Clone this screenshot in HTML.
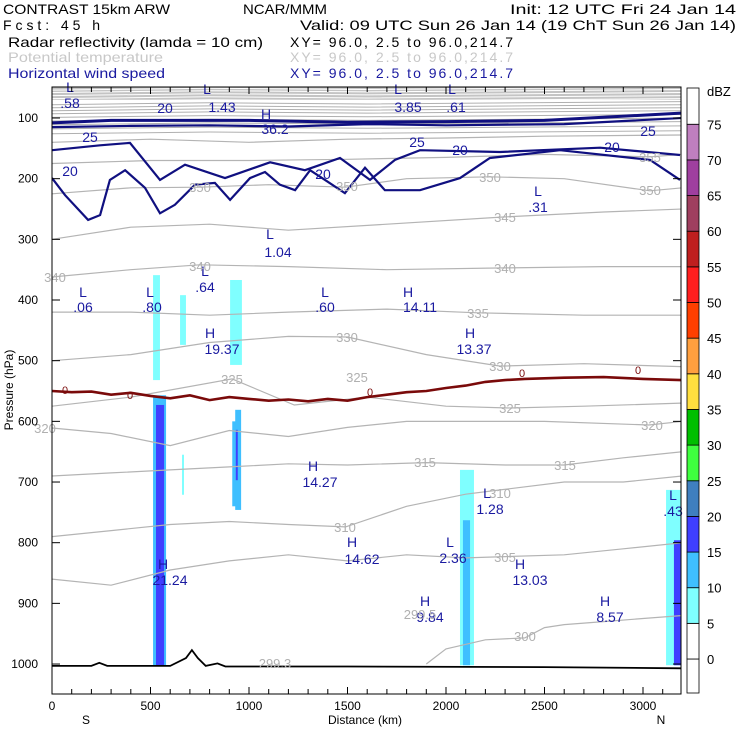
<!DOCTYPE html>
<html><head><meta charset="utf-8">
<style>
body{margin:0;background:#fff;width:740px;height:740px;overflow:hidden}
svg{display:block;font-family:"Liberation Sans",sans-serif}
</style></head>
<body>
<svg id="c" width="740" height="740" xmlns="http://www.w3.org/2000/svg">
<g font-size="14">
<text x="3" y="14" textLength="167" lengthAdjust="spacingAndGlyphs">CONTRAST 15km ARW</text>
<text x="243" y="14" textLength="84" lengthAdjust="spacingAndGlyphs">NCAR/MMM</text>
<text x="510" y="14" textLength="226" lengthAdjust="spacingAndGlyphs">Init: 12 UTC Fri 24 Jan 14</text>
<text x="3" y="30" textLength="97" lengthAdjust="spacing">Fcst:   45 h</text>
<text x="300" y="30" textLength="436" lengthAdjust="spacingAndGlyphs">Valid: 09 UTC Sun 26 Jan 14 (19 ChT Sun 26 Jan 14)</text>
<text x="8" y="47" textLength="255" lengthAdjust="spacingAndGlyphs">Radar reflectivity (lamda = 10 cm)</text>
<text x="290" y="47" textLength="223" lengthAdjust="spacing">XY=  96.0,  2.5 to  96.0,214.7</text>
<text x="8" y="62" fill="#c8c8c8" textLength="155" lengthAdjust="spacingAndGlyphs">Potential temperature</text>
<text x="290" y="62" fill="#c8c8c8" textLength="223" lengthAdjust="spacing">XY=  96.0,  2.5 to  96.0,214.7</text>
<text x="8" y="78" fill="#1a1aa0" textLength="157" lengthAdjust="spacingAndGlyphs">Horizontal wind speed</text>
<text x="290" y="78" fill="#1a1aa0" textLength="223" lengthAdjust="spacing">XY=  96.0,  2.5 to  96.0,214.7</text>
</g>
<defs><clipPath id="pc"><rect x="52" y="87" width="629" height="607"/></clipPath></defs>
<g id="plot" clip-path="url(#pc)"></g>
<g id="labels"></g>
<rect x="52" y="87" width="629" height="607" fill="none" stroke="#000"/>
<g id="axes" font-size="12"></g>
<g id="cbar" font-size="13"></g>
</svg>
<script>
// ---- data ----
const xTicks=[0,500,1000,1500,2000,2500,3000];
const yTicks=[100,200,300,400,500,600,700,800,900,1000];
const cbLevels=[0,5,10,15,20,25,30,35,40,45,50,55,60,65,70,75];
const cbColors=["#ffffff","#ffffff","#7fffff","#3fbfff","#3f3fff","#3f7fbf","#3fff3f","#00bf00","#ffdf3f","#ff9f3f","#ff3f00","#ff1f1f","#bf1f1f","#9f3f5f","#9f3f9f","#bf7fbf","#ffffff"];
// reflectivity regions
const reflKm0=[513,650,660,904,915,2071,3117,930,933,2086,3157];
const reflKm1=[548,680,670,964,955,2142,3193,960,943,2122,3193];
const reflPTop=[359,392,655,367,600,680,713,581,614,763,796];
const reflPBot=[532,474,721,507,740,1002,1002,746,697,1002,1002];
const reflDbz=[7,7,7,7,12,7,7,12,17,12,17];
const colOuterKm0=513,colOuterKm1=579,colOuterPTop=557,colOuterPBot=1002,colOuterDbz=12;
const colCoreKm0=528,colCoreKm1=569,colCorePTop=573,colCorePBot=1002,colCoreDbz=17;
// isentropes (km, hPa)
const thetaLines={
300:[[1900,1000],[2000,975],[2200,960],[2400,957],[2500,940],[2600,935],[2800,930],[3000,925],[3200,920]],
305:[[0,860],[300,870],[600,845],[900,830],[1200,820],[1500,830],[1800,820],[2100,825],[2300,823],[2600,820],[2900,810],[3200,800]],
310:[[0,790],[300,780],[600,770],[900,765],[1200,770],[1490,774],[1800,740],[2100,720],[2275,713],[2600,700],[2900,700],[3200,690]],
315:[[0,690],[300,685],[600,680],[900,675],[1200,670],[1500,672],[1900,668],[2300,672],[2600,672],[2900,660],[3200,650]],
320:[[0,611],[300,620],[600,640],[900,615],[1200,625],[1500,610],[1800,600],[2100,600],[2500,600],[3030,606],[3200,600]],
325:[[0,575],[400,560],[914,530],[1230,573],[1600,560],[2000,575],[2325,578],[2700,575],[3200,570]],
330:[[0,500],[400,490],[800,470],[1200,460],[1500,461],[1900,490],[2275,509],[2700,505],[3200,510]],
335:[[0,420],[400,420],[800,425],[1200,420],[1700,415],[2160,421],[2700,425],[3200,425]],
340:[[0,362],[400,350],[750,342],[1200,345],[1700,350],[2300,347],[2800,345],[3200,345]],
345:[[0,300],[400,280],[800,275],[1200,285],[1700,275],[2300,263],[2800,255],[3200,250]],
350:[[0,225],[400,215],[750,214],[1100,210],[1490,214],[1800,200],[2220,197],[2600,200],[3035,220],[3200,215]],
355:[[0,175],[500,170],[1000,170],[1500,168],[2000,165],[2500,160],[3035,164],[3200,160]],
360:[[0,140],[500,135],[1000,140],[1500,135],[2000,133],[2500,130],[3200,128]]};
const stratoLevels=[124,116,109,103,97,91,86,81,76,71,66,61,56,52];
const freezingLine=[[0,550],[100,552],[200,551],[300,556],[400,553],[500,558],[600,562],[700,557],[800,565],[900,560],[1000,563],[1100,566],[1200,564],[1300,567],[1400,563],[1500,566],[1600,560],[1700,556],[1800,552],[1900,550],[2000,545],[2100,541],[2200,535],[2300,532],[2400,530],[2600,528],[2800,527],[3000,530],[3200,532]];
const wind20=[[0,199],[66,227],[183,268],[244,260],[294,202],[371,186],[472,215],[548,257],[624,243],[726,210],[827,207],[904,235],[1005,199],[1081,189],[1157,210],[1234,219],[1310,186],[1386,202],[1487,224],[1589,182],[1690,219],[1868,219],[2071,199],[2223,166],[2579,153],[3036,169],[3188,202]];
const wind25=[[0,153],[244,145],[396,141],[548,202],[675,177],[878,199],[1107,173],[1284,186],[1462,166],[1614,202],[1741,169],[1868,153],[2274,156],[2782,149],[3188,161]];
const windJet1=[[0,108],[300,104],[600,104],[1000,104],[1500,107],[2000,106],[2500,104],[3200,92]];
const windJet2=[[0,115],[400,113],[800,112],[1200,114],[1600,110],[2000,112],[2600,110],[3200,100]];
const terrain=[[0,1003],[200,1003],[240,998],[280,1003],[600,1003],[680,990],[710,977],[740,990],[780,1003],[840,999],[880,1004],[1500,1004],[2500,1005],[3200,1007]];

// ---- scales ----
const X=km=>52+km*0.197;
const Y=p=>118+(p-100)*0.6067;
const NS="http://www.w3.org/2000/svg";
function mk(tag,parent,attrs){const e=document.createElementNS(NS,tag);for(const k in attrs)e.setAttribute(k,attrs[k]);parent.appendChild(e);return e;}
function pathOf(pts){return pts.map((p,i)=>(i?"L":"M")+X(p[0]).toFixed(1)+","+Y(p[1]).toFixed(1)).join("");}
function colorFor(d){let i=0;while(i<cbLevels.length&&d>=cbLevels[i])i++;return cbColors[i];}
const plot=document.getElementById("plot");

let band=mk("rect",plot,{x:52,y:87,width:629,height:Y(70)-87,fill:"#c4c4c4"});


stratoLevels.forEach((p)=>{
  const pts=[[0,p+2],[800,p-1],[1600,p+1],[2400,p-1],[3200,p-3]];
  const e=mk("path",plot,{d:pathOf(pts),fill:"none",stroke:p<72?"#ffffff":"#b0b0b0","stroke-width":1});
  
  
});
// reflectivity
{const r=mk("rect",plot,{x:X(colOuterKm0),y:Y(colOuterPTop),width:X(colOuterKm1)-X(colOuterKm0),height:Y(colOuterPBot)-Y(colOuterPTop),fill:colorFor(colOuterDbz)});

}
{const r=mk("rect",plot,{x:X(colCoreKm0),y:Y(colCorePTop),width:X(colCoreKm1)-X(colCoreKm0),height:Y(colCorePBot)-Y(colCorePTop),fill:colorFor(colCoreDbz)});

}
for(let i=0;i<reflKm0.length;i++){
  const r=mk("rect",plot,{x:X(reflKm0[i]),y:Y(reflPTop[i]),width:X(reflKm1[i])-X(reflKm0[i]),height:Y(reflPBot[i])-Y(reflPTop[i]),fill:colorFor(reflDbz[i])});
  
  
}
for(const k in thetaLines){
  const e=mk("path",plot,{d:pathOf(thetaLines[k]),fill:"none",stroke:"#b4b4b4","stroke-width":1.2});
  
  
}
[[wind20,'wind-contour-20',2.2],[wind25,'wind-contour-25',2.2],[windJet1,'wind-jet-contour',3],[windJet2,'wind-jet-contour-inner',2.2]].forEach(w=>{
  const e=mk("path",plot,{d:pathOf(w[0]),fill:"none",stroke:"#101080","stroke-width":w[2]});
  
  
});
{const e=mk("path",plot,{d:pathOf(freezingLine),fill:"none",stroke:"#7a0a0a","stroke-width":2.6});

}
{const e=mk("path",plot,{d:pathOf(terrain),fill:"none",stroke:"#000","stroke-width":1.8});

}

const lab=document.getElementById("labels");
const navyLabels=[["L",70,92],[".58",70,108],["L",207,94],["1.43",222,112],["20",165,113],["H",266,119],["36.2",275,134],["L",398,94],["3.85",408,112],["L",452,94],[".61",456,112],["L",538,196],[".31",538,212],["L",270,239],["1.04",278,257],["L",83,297],[".06",83,312],["L",150,297],[".80",152,312],["L",205,276],[".64",205,292],["L",325,297],[".60",325,312],["H",408,297],["14.11",420,312],["H",210,338],["19.37",222,354],["H",470,338],["13.37",474,354],["H",313,471],["14.27",320,487],["L",487,498],["1.28",490,514],["L",450,547],["2.36",453,563],["H",352,547],["14.62",362,564],["H",163,569],["21.24",170,585],["H",520,569],["13.03",530,585],["H",425,606],["9.84",430,622],["H",605,606],["8.57",610,622],["L",673,500],[".43",673,516],["25",90,142],["20",70,176],["20",323,179],["25",417,147],["20",460,155],["25",648,136],["20",612,152]];
navyLabels.forEach(l=>{const t=mk("text",lab,{x:l[1],y:l[2],"text-anchor":"middle","font-size":14,fill:"#1a1aa0"});t.textContent=l[0];

});
const greyLabels=[["340",55,282],["340",200,271],["340",505,273],["345",505,222],["350",200,192],["350",347,191],["350",490,182],["350",650,195],["355",650,162],["335",478,318],["330",347,342],["330",500,371],["325",232,384],["325",357,382],["325",510,413],["320",45,433],["320",652,430],["315",565,470],["315",425,467],["310",500,498],["310",345,532],["305",505,562],["300",525,641],["299.5",420,619],["299.3",275,668]];
greyLabels.forEach(l=>{const t=mk("text",lab,{x:l[1],y:l[2],"text-anchor":"middle","font-size":13,fill:"#b0b0b0"});t.textContent=l[0];

});
[[65,394],[130,399],[370,396],[522,377],[638,374]].forEach(l=>{const t=mk("text",lab,{x:l[0],y:l[1],"text-anchor":"middle","font-size":11,fill:"#7a0a0a"});t.textContent="0";

});

const ax=document.getElementById("axes");
for(let km=0;km<=3100;km+=100){
  const len=km%500===0?7:5;
  mk("line",ax,{x1:X(km),x2:X(km),y1:694,y2:694-len,stroke:"#000"});
  mk("line",ax,{x1:X(km),x2:X(km),y1:87,y2:87+len,stroke:"#000"});
}
xTicks.forEach(v=>{const t=mk("text",ax,{x:X(v),y:710,"text-anchor":"middle"});t.textContent=v;

});
yTicks.forEach(v=>{mk("line",ax,{x1:52,x2:60,y1:Y(v),y2:Y(v),stroke:"#000"});mk("line",ax,{x1:681,x2:673,y1:Y(v),y2:Y(v),stroke:"#000"});
const t=mk("text",ax,{x:38,y:Y(v)+4,"text-anchor":"end"});t.textContent=v;

});
[["S",86,724,'x-axis-south'],["N",661,724,'x-axis-north'],["Distance (km)",365,724,'x-axis-title']].forEach(a=>{const t=mk("text",ax,{x:a[1],y:a[2],"text-anchor":"middle"});t.textContent=a[0];

});
{const t=mk("text",ax,{x:0,y:0,"text-anchor":"middle",transform:"translate(13,390) rotate(-90)"});t.textContent="Pressure (hPa)";

}

const cb=document.getElementById("cbar");
const cbY=v=>659-(v)*7.13;
for(let i=0;i<=cbLevels.length;i++){
  const top=i<cbLevels.length?cbY(cbLevels[i]):88;
  const bot=i===0?693:cbY(cbLevels[i-1]);
  const r=mk("rect",cb,{x:687,y:top,width:12,height:bot-top,fill:cbColors[i],stroke:"#000","stroke-width":0.8});
  
  
}
cbLevels.forEach(v=>{const t=mk("text",cb,{x:707,y:cbY(v)+5});t.textContent=v;

});
{const t=mk("text",cb,{x:707,y:96});t.textContent="dBZ";

}
</script>
</body></html>
